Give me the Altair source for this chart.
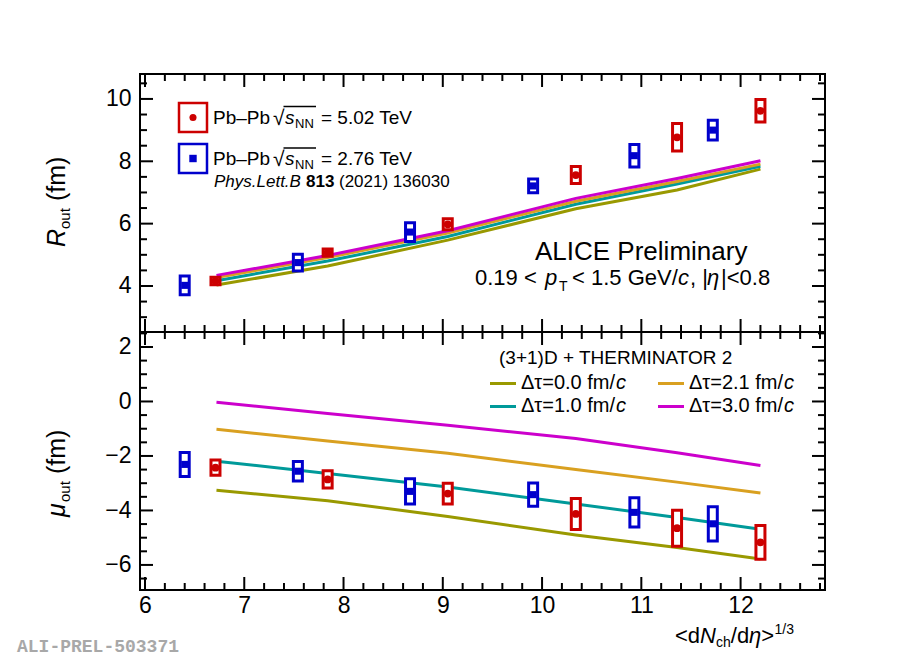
import altair as alt
import pandas as pd

# ---------------- data ----------------
x_502 = [6.71, 7.84, 9.05, 10.34, 11.36, 12.20]
x_276 = [6.40, 7.54, 8.67, 9.91, 10.93, 11.72]

rout_502 = [4.16, 5.07, 5.98, 7.56, 8.77, 9.62]
rout_502_sys = [0.12, 0.12, 0.18, 0.27, 0.44, 0.36]
rout_276 = [4.02, 4.75, 5.73, 7.21, 8.18, 9.00]
rout_276_sys = [0.30, 0.27, 0.30, 0.22, 0.36, 0.32]

mu_502 = [-2.43, -2.86, -3.38, -4.13, -4.65, -5.17]
mu_502_sys = [0.28, 0.32, 0.38, 0.57, 0.66, 0.62]
mu_276 = [-2.31, -2.56, -3.30, -3.42, -4.07, -4.49]
mu_276_sys = [0.44, 0.36, 0.46, 0.43, 0.54, 0.63]

model_x = [6.72, 7.84, 9.05, 10.34, 11.36, 12.20]
model_keys = ["0.0", "1.0", "2.1", "3.0"]
rout_model = {
    "0.0": [4.03, 4.64, 5.47, 6.48, 7.08, 7.75],
    "1.0": [4.17, 4.80, 5.59, 6.62, 7.27, 7.84],
    "2.1": [4.27, 4.91, 5.70, 6.72, 7.35, 7.91],
    "3.0": [4.34, 4.98, 5.77, 6.81, 7.45, 8.02],
}
mu_model = {
    "0.0": [-3.26, -3.64, -4.22, -4.90, -5.36, -5.78],
    "1.0": [-2.19, -2.64, -3.14, -3.76, -4.26, -4.69],
    "2.1": [-1.02, -1.45, -1.90, -2.50, -2.96, -3.36],
    "3.0": [-0.03, -0.44, -0.87, -1.36, -1.88, -2.35],
}

x_major = [6, 7, 8, 9, 10, 11, 12]
x_minor = [round(6 + 0.2 * i, 1) for i in range(35) if i % 5]
top_major = [4, 6, 8, 10]
top_minor = [3.0, 3.5, 4.5, 5.0, 5.5, 6.5, 7.0, 7.5, 8.5, 9.0, 9.5, 10.5]
bot_major = [-6, -4, -2, 0, 2]
bot_minor = [-6.5, -5.5, -5.0, -4.5, -3.5, -3.0, -2.5, -1.5, -1.0, -0.5,
             0.5, 1.0, 1.5, 2.5]

# ---------------- style ----------------
F = "Liberation Sans"
RED = "#cc0000"
BLUE = "#0000cc"
MCOL = ["#999900", "#009a9a", "#d9a020", "#cc00cc"]
W = 685
H1 = 258
H2 = 258
XDOM = [6, 12.8]


def txt(s, x, y, size=19, style="normal", weight="normal", angle=0,
        align="left", color="black", font=F):
    return alt.Chart(pd.DataFrame({"t": [s]})).mark_text(
        fontSize=size, fontStyle=style, fontWeight=weight, angle=angle,
        align=align, baseline="alphabetic", color=color, font=font
    ).encode(x=alt.value(x), y=alt.value(y), text=alt.value(s))


def hrule(x1, x2, y, color, sw):
    return alt.Chart(pd.DataFrame({"a": [0]})).mark_rule(
        color=color, strokeWidth=sw
    ).encode(x=alt.value(x1), x2=alt.value(x2), y=alt.value(y))


def panel(H, ydom, ymaj, ymin, xlabels, v502, s502, v276, s276, model, extra):
    xs = alt.Scale(domain=XDOM, nice=False, zero=False)
    ys = alt.Scale(domain=ydom, nice=False, zero=False)
    if xlabels:
        xax = alt.Axis(values=x_major, format="d", ticks=False, tickSize=0,
                       domain=False, grid=False, title=None, labelFontSize=23,
                       labelPadding=4, labelFlush=False, labelFont=F,
                       labelColor="black", labelOverlap=False)
    else:
        xax = None
    yax = alt.Axis(values=ymaj, format="d", ticks=False, tickSize=0,
                   domain=False, grid=False, title=None, labelFontSize=23,
                   labelPadding=9, labelFlush=False, labelFont=F,
                   labelColor="black", labelOverlap=False)

    def X(f):
        return alt.X(f"{f}:Q", scale=xs, axis=xax)

    def Y(f):
        return alt.Y(f"{f}:Q", scale=ys, axis=yax)

    layers = []
    # anchor (white, sets left/top margin)
    layers.append(alt.Chart(pd.DataFrame({"a": [0]})).mark_rule(
        color="white", strokeWidth=1).encode(
        x=alt.value(-130), x2=alt.value(-129), y=alt.value(-64), y2=alt.value(-63)))

    rows = []
    for k in model_keys:
        for xv, yv in zip(model_x, model[k]):
            rows.append({"x": xv, "y": yv, "m": k})
    ldf = pd.DataFrame(rows)
    layers.append(alt.Chart(ldf).mark_line(strokeWidth=3).encode(
        x=X("x"), y=Y("y"),
        color=alt.Color("m:N", scale=alt.Scale(domain=model_keys, range=MCOL),
                        legend=None)))

    for xv, vv, ss, col, shape, size in (
        (x_276, v276, s276, BLUE, "square", 50),
        (x_502, v502, s502, RED, "circle", 60),
    ):
        d = pd.DataFrame({"x": xv, "v": vv,
                          "lo": [a - b for a, b in zip(vv, ss)],
                          "hi": [a + b for a, b in zip(vv, ss)]})
        layers.append(alt.Chart(d).mark_bar(
            width=9, fill="white", fillOpacity=1, stroke=col,
            strokeWidth=3).encode(x=X("x"), y=Y("lo"), y2="hi"))
        layers.append(alt.Chart(d).mark_point(
            shape=shape, filled=True, size=size, color=col, opacity=1).encode(
            x=X("x"), y=Y("v")))

    # inward ticks on all four sides
    for vals, ln in ((x_major, 13), (x_minor, 7)):
        d = pd.DataFrame({"v": vals})
        layers.append(alt.Chart(d).mark_rule(color="black", strokeWidth=2).encode(
            x=X("v"), y=alt.value(H), y2=alt.value(H - ln)))
        layers.append(alt.Chart(d).mark_rule(color="black", strokeWidth=2).encode(
            x=X("v"), y=alt.value(0), y2=alt.value(ln)))
    for vals, ln in ((ymaj, 13), (ymin, 7)):
        d = pd.DataFrame({"v": vals})
        layers.append(alt.Chart(d).mark_rule(color="black", strokeWidth=2).encode(
            y=Y("v"), x=alt.value(0), x2=alt.value(ln)))
        layers.append(alt.Chart(d).mark_rule(color="black", strokeWidth=2).encode(
            y=Y("v"), x=alt.value(W - ln), x2=alt.value(W)))

    layers.extend(extra)
    return alt.layer(*layers).properties(width=W, height=H)


# ---------------- top panel annotations ----------------
top_extra = []
for (bx, by, col, shape, size, energy, base) in (
    (39, 29, RED, "circle", 50, "= 5.02 TeV", 49.5),
    (39, 70, BLUE, "square", 55, "= 2.76 TeV", 91),
):
    top_extra.append(alt.Chart(pd.DataFrame({"a": [0]})).mark_rect(
        fillOpacity=0, stroke=col, strokeWidth=2.5).encode(
        x=alt.value(bx), x2=alt.value(bx + 28), y=alt.value(by), y2=alt.value(by + 29)))
    top_extra.append(alt.Chart(pd.DataFrame({"a": [0]})).mark_point(
        shape=shape, filled=True, size=size, color=col, opacity=1).encode(
        x=alt.value(bx + 14), y=alt.value(by + 14.5)))
    top_extra.append(txt("Pb–Pb", 73, base))
    top_extra.append(txt("√", 133, base + 1, size=21))
    top_extra.append(hrule(143.5, 176, base - 17, "black", 1.3))
    top_extra.append(txt("s", 145, base, style="italic"))
    top_extra.append(txt("NN", 155, base + 4, size=13))
    top_extra.append(txt(energy, 181, base))

top_extra += [
    txt("Phys.Lett.B", 74, 113, size=17, style="italic"),
    txt("813", 166, 113, size=17, weight="bold"),
    txt("(2021) 136030", 199, 113, size=17),
    txt("ALICE Preliminary", 395, 186, size=26),
    txt("0.19 <", 335, 211, size=22),
    txt("p", 405, 211, size=22, style="italic"),
    txt("T", 419, 217, size=14),
    txt("< 1.5 GeV/", 432, 211, size=22),
    txt("c", 538, 211, size=22, style="italic"),
    txt(", |", 550, 211, size=22),
    txt("η", 567, 211, size=22, style="italic"),
    txt("|<0.8", 581, 211, size=22),
    # y title R_out (fm)
    txt("R", -75, 173, size=25, style="italic", angle=270),
    txt("out", -70, 155, size=15, angle=270),
    txt("(fm)", -75, 127, size=25, angle=270),
]

# ---------------- bottom panel annotations ----------------
bot_extra = [
    txt("(3+1)D + THERMINATOR 2", 359, 32, size=19),
]
for (lx, ly, base, col, lab) in (
    (350, 51.5, 57, MCOL[0], "Δτ=0.0 fm/"),
    (518, 51.5, 57, MCOL[2], "Δτ=2.1 fm/"),
    (350, 74.5, 80, MCOL[1], "Δτ=1.0 fm/"),
    (518, 74.5, 80, MCOL[3], "Δτ=3.0 fm/"),
):
    bot_extra.append(hrule(lx, lx + 26, ly, col, 3))
    bot_extra.append(txt(lab, lx + 31, base, size=20))
    bot_extra.append(txt("c", lx + 126, base, size=20, style="italic"))

bot_extra += [
    # x title <dN_ch/dη>^1/3
    txt("<d", 535, 311, size=22),
    txt("N", 560.1, 311, size=22, style="italic"),
    txt("ch", 576, 315, size=14),
    txt("/d", 590.8, 311, size=22),
    txt("η", 609.1, 311, size=22, style="italic"),
    txt(">", 621.3, 311, size=22),
    txt("1/3", 634.5, 302, size=14),
    # y title mu_out (fm)
    txt("μ", -75, 185, size=25, style="italic", angle=270),
    txt("out", -70, 170, size=15, angle=270),
    txt("(fm)", -75, 142, size=25, angle=270),
    # label
    txt("ALI-PREL-503371", -123, 320, size=18, weight="bold",
        color="#a8a8a8", font="Liberation Mono"),
]

top = panel(H1, [2.524, 10.80], top_major, top_minor, False,
            rout_502, rout_502_sys, rout_276, rout_276_sys, rout_model, top_extra)
bottom = panel(H2, [-6.92, 2.55], bot_major, bot_minor, True,
               mu_502, mu_502_sys, mu_276, mu_276_sys, mu_model, bot_extra)

chart = alt.vconcat(top, bottom, spacing=0, bounds="flush").properties(
    padding=0, background="white"
).configure_view(stroke="black", strokeWidth=2)

chart.save("out.html", embed_options={"renderer": "svg", "actions": False})
